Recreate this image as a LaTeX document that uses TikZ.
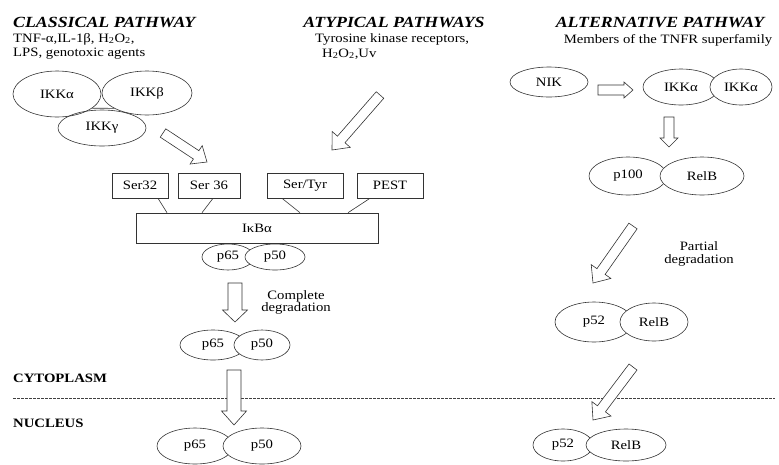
\documentclass[tikz,border=0pt]{standalone}
\usepackage{fontspec}
\setmainfont{Liberation Serif}[FakeStretch=1.15]
\usetikzlibrary{shapes.geometric,calc}
\newcommand{\blockarr}[5]{%
  \coordinate (tmpc) at ($(#2)!#5!(#1)$);
  \draw[barrow] ($(#1)!#3!90:(#2)$) -- ($(tmpc)!#3!90:(#2)$) -- ($(tmpc)!#4!90:(#2)$) -- (#2)
    -- ($(tmpc)!#4!-90:(#2)$) -- ($(tmpc)!#3!-90:(#2)$) -- ($(#1)!#3!-90:(#2)$) -- cycle;}
\begin{document}
\begin{tikzpicture}[x=1pt,y=-1pt,
  lbl/.style={font=\fontsize{12.8}{14}\selectfont},
  ttl/.style={font=\fontsize{15.5}{17}\selectfont\bfseries\itshape},
  ell/.style={draw=black!80, ellipse, inner sep=0pt, line width=0.6pt, lbl},
  ellw/.style={ell, fill=white},
  box/.style={draw=black!80, rectangle, inner sep=0pt, line width=0.6pt, lbl},
  barrow/.style={draw=black!80, line width=0.6pt, fill=white, line join=miter},
  conn/.style={draw=black!80, line width=0.6pt}]
\useasboundingbox (0,0) rectangle (779,464);
% titles
\node[ttl, anchor=base west, inner sep=0pt] (t1) at (13,27) {CLASSICAL PATHWAY};
\node[lbl, anchor=base west, inner sep=0pt] (t1a) at (13,42) {TNF-α,IL-1β, H\textsubscript{2}O\textsubscript{2},};
\node[lbl, anchor=base west, inner sep=0pt] (t1b) at (13,56) {LPS, genotoxic agents};
\node[ttl, anchor=base, inner sep=0pt] (t2) at (394,27) {ATYPICAL PATHWAYS};
\node[lbl, anchor=base west, inner sep=0pt] (t2a) at (315,42) {Tyrosine kinase receptors,};
\node[lbl, anchor=base west, inner sep=0pt] (t2b) at (322,57) {H\textsubscript{2}O\textsubscript{2},Uv};
\node[ttl, anchor=base, inner sep=0pt] (t3) at (660,27) {ALTERNATIVE PATHWAY};
\node[lbl, anchor=base, inner sep=0pt] (t3a) at (668,43) {Members of the TNFR superfamily};
% classical IKK complex
\node[ell, minimum width=88, minimum height=36] (ikkg) at (102,128) {IKKγ};
\node[ell, minimum width=88, minimum height=46] (ikka) at (57,94) {IKKα};
\node[ell, minimum width=90, minimum height=44] (ikkb) at (147,93) {IKKβ};
\draw[conn] (ikka.-22) -- (ikkb.-155);
% Ser boxes and IkBa
\node[box, minimum width=56, minimum height=25] (ser32) at (140,185.5) {Ser32};
\node[box, minimum width=62, minimum height=25] (ser36) at (209,185.5) {Ser 36};
\node[box, minimum width=76, minimum height=25] (sertyr) at (305,185.5) {Ser/Tyr};
\node[box, minimum width=66, minimum height=25] (pest) at (390,185.5) {PEST};
\node[box, minimum width=242, minimum height=30] (ikb) at (257,228) {IκBα};
\draw[conn] ([xshift=18]ser32.south) -- ([xshift=-90]ikb.north);
\draw[conn] ([xshift=4]ser36.south) -- ([xshift=-55]ikb.north);
\draw[conn] ([xshift=-23]sertyr.south) -- ([xshift=43]ikb.north);
\draw[conn] ([xshift=-20]pest.south) -- ([xshift=91]ikb.north);
% p65/p50 complexes
\node[ellw, minimum width=52, minimum height=26] (p65a) at (228,257) {p65};
\node[ellw, minimum width=60, minimum height=26] (p50a) at (275,257) {p50};
\node[ellw, minimum width=66, minimum height=30] (p65b) at (213,345) {p65};
\node[ellw, minimum width=56, minimum height=30] (p50b) at (262,345) {p50};
\node[ellw, minimum width=76, minimum height=36] (p65c) at (195,446) {p65};
\node[ellw, minimum width=78, minimum height=36] (p50c) at (262,446) {p50};
% alternative
\node[ell, minimum width=78, minimum height=30] (nik) at (549,82) {NIK};
\node[ellw, minimum width=76, minimum height=36] (ikka2) at (681,87) {IKKα};
\node[ellw, minimum width=62, minimum height=36] (ikka3) at (741,87) {IKKα};
\node[ellw, minimum width=78, minimum height=38] (p100) at (628,176) {p100};
\node[ellw, minimum width=84, minimum height=38] (relb1) at (702,176) {RelB};
\node[ellw, minimum width=78, minimum height=40] (p52a) at (594,322) {p52};
\node[ellw, minimum width=68, minimum height=38] (relb2) at (654,322) {RelB};
\node[ellw, minimum width=60, minimum height=32] (p52b) at (563,445) {p52};
\node[ellw, minimum width=80, minimum height=32] (relb3) at (626,445) {RelB};
% labels
\node[lbl, anchor=base, inner sep=0pt] (cd1) at (296,299) {Complete};
\node[lbl, anchor=base, inner sep=0pt] (cd2) at (296,311) {degradation};
\node[lbl, anchor=base, inner sep=0pt] (pd1) at (699,250) {Partial};
\node[lbl, anchor=base, inner sep=0pt] (pd2) at (699,263) {degradation};
\node[lbl, font=\fontsize{12.8}{14}\selectfont\bfseries, anchor=base west, inner sep=0pt] (cyto) at (13,382) {CYTOPLASM};
\node[lbl, font=\fontsize{12.8}{14}\selectfont\bfseries, anchor=base west, inner sep=0pt] (nucl) at (13,427) {NUCLEUS};
% membrane
\coordinate (dl) at (13,398);
\coordinate (dr) at (775,398);
\draw[black!75, line width=0.6pt, dash pattern=on 3pt off 1pt] (dl) -- (dr);
% block arrows
\coordinate (a1s) at (163,133); \coordinate (a1e) at (207,162);
\coordinate (a2s) at (380,95);  \coordinate (a2e) at (332,150);
\coordinate (a3s) at (598,90);  \coordinate (a3e) at (633,90);
\coordinate (a4s) at (669,117); \coordinate (a4e) at (669,147);
\coordinate (a5s) at (633,226); \coordinate (a5e) at (593,283);
\coordinate (a6s) at (235,283); \coordinate (a6e) at (235,322);
\coordinate (a7s) at (234,370); \coordinate (a7e) at (234,425);
\coordinate (a8s) at (633,367); \coordinate (a8e) at (593,420);
\blockarr{a1s}{a1e}{5pt}{11pt}{13pt}
\blockarr{a2s}{a2e}{5pt}{12pt}{14pt}
\blockarr{a3s}{a3e}{5pt}{8pt}{9pt}
\blockarr{a4s}{a4e}{5pt}{9pt}{9pt}
\blockarr{a5s}{a5e}{5pt}{12pt}{14pt}
\blockarr{a6s}{a6e}{7pt}{12.5pt}{12pt}
\blockarr{a7s}{a7e}{7pt}{12.5pt}{14pt}
\blockarr{a8s}{a8e}{5pt}{12pt}{14pt}
\end{tikzpicture}
\end{document}
